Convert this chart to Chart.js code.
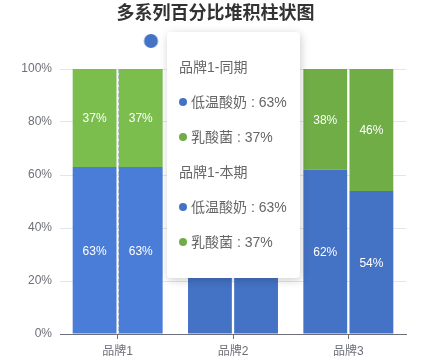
<!DOCTYPE html>
<html><head><meta charset="utf-8">
<script src="https://cdn.jsdelivr.net/npm/chart.js@4/dist/chart.umd.min.js"></script>
<style>
html,body{margin:0;padding:0;background:#fff;}
#wrap{position:relative;width:431px;height:358px;overflow:hidden;}
#tip{position:absolute;display:none;box-sizing:border-box;width:133px;height:246px;background:#fff;border-radius:4px;box-shadow:1px 2px 10px rgba(0,0,0,0.2);padding:18px 12px 19px 12px;font:14px "Liberation Sans","Noto Sans CJK SC",sans-serif;color:#666;white-space:nowrap;pointer-events:none;}
#tip .row{line-height:35px;height:35px;}
#tip .dot{display:inline-block;width:8px;height:8px;border-radius:50%;margin-right:4px;vertical-align:middle;position:relative;top:-1px;}
</style></head><body>
<div id="wrap"><canvas id="c" width="431" height="358"></canvas><div id="tip"></div></div>
<script>
const categories = ['品牌1', '品牌2', '品牌3'];
const seriesNames = ['低温酸奶', '乳酸菌'];
const periods = ['同期', '本期'];
const yogurtPrev = [63, 56, 62];
const lactoPrev = [37, 44, 38];
const yogurtCurr = [63, 60, 54];
const lactoCurr = [37, 40, 46];
const yTicks = [0, 20, 40, 60, 80, 100];
const chartTitle = '多系列百分比堆积柱状图';

const hoverIndex = 0;
const baseColors = ['#4472c4', '#70ad47'];
const hoverColors = ['#4a7dd7', '#7bbe4e'];
const FONT = '"Liberation Sans","Noto Sans CJK SC",sans-serif';
Chart.defaults.font.family = FONT;

// legend icon: 25x14 box with a 14px circle centred in it
function legendIcon(color) {
  const c = document.createElement('canvas');
  c.width = 25; c.height = 14;
  const g = c.getContext('2d');
  g.fillStyle = color;
  g.beginPath(); g.arc(12.5, 7, 7, 0, Math.PI * 2); g.fill();
  return c;
}
const legendIcons = baseColors.map(legendIcon);

const stackData = [[yogurtPrev, lactoPrev], [yogurtCurr, lactoCurr]];
const datasets = [];
periods.forEach((p, pi) => {
  seriesNames.forEach((name, si) => {
    const col = ctx => ctx.dataIndex === hoverIndex ? hoverColors[si] : baseColors[si];
    datasets.push({
      label: name, stack: p, data: stackData[pi][si],
      backgroundColor: col, hoverBackgroundColor: col,
      categoryPercentage: 0.8, barPercentage: 0.95, borderWidth: 0
    });
  });
});

const axisPointer = {
  id: 'axisPointer',
  afterDatasetsDraw(chart) {
    const ctx = chart.ctx;
    const x = Math.round(chart.scales.x.getPixelForValue(hoverIndex)) + 0.5;
    const {top, bottom} = chart.chartArea;
    ctx.save();
    ctx.strokeStyle = '#b9bec9';
    ctx.lineWidth = 1;
    ctx.setLineDash([4, 2]);
    ctx.beginPath(); ctx.moveTo(x, top); ctx.lineTo(x, bottom); ctx.stroke();
    ctx.restore();
  }
};

const valueLabels = {
  id: 'valueLabels',
  afterDatasetsDraw(chart) {
    const ctx = chart.ctx;
    ctx.save();
    ctx.font = '12px ' + FONT;
    ctx.fillStyle = '#fff';
    ctx.textAlign = 'center';
    ctx.textBaseline = 'middle';
    chart.data.datasets.forEach((ds, di) => {
      chart.getDatasetMeta(di).data.forEach((el, i) => {
        const {x, y, base} = el.getProps(['x', 'y', 'base'], true);
        ctx.fillText(ds.data[i] + '%', x, (y + base) / 2 + 1);
      });
    });
    ctx.restore();
  }
};

function externalTip(context) {
  const tooltip = context.tooltip;
  const el = document.getElementById('tip');
  const pts = tooltip.dataPoints || [];
  if (!pts.length) { el.style.display = 'none'; return; }
  const idx = pts[0].dataIndex;
  let html = '';
  periods.forEach(p => {
    html += '<div class="row">' + categories[idx] + '-' + p + '</div>';
    pts.filter(dp => dp.dataset.stack === p).forEach(dp => {
      const si = seriesNames.indexOf(dp.dataset.label);
      html += '<div class="row"><span class="dot" style="background:' + baseColors[si] + '"></span>' +
        dp.dataset.label + ' : ' + dp.raw + '%</div>';
    });
  });
  el.innerHTML = html;
  el.style.display = 'block';
  const cx = context.chart.scales.x.getPixelForValue(idx);
  el.style.left = Math.round(cx + 49) + 'px';
  el.style.top = '32px';
}

const chart = new Chart(document.getElementById('c'), {
  type: 'bar',
  data: { labels: categories, datasets },
  options: {
    responsive: false,
    animation: false,
    devicePixelRatio: 1,
    layout: { padding: 0 },
    plugins: {
      title: {
        display: true, text: chartTitle, color: '#333',
        font: { size: 18, weight: 'bold' },
        padding: { top: 3, bottom: 2.4 }
      },
      legend: {
        display: true, position: 'top',
        labels: {
          usePointStyle: true, pointStyleWidth: 25,
          boxWidth: 25, boxHeight: 10, padding: 8, color: '#333',
          font: { size: 12 },
          generateLabels: () => seriesNames.map((n, i) => ({
            text: n, fillStyle: baseColors[i], strokeStyle: baseColors[i],
            lineWidth: 0, pointStyle: legendIcons[i], datasetIndex: i, hidden: false, fontColor: '#333'
          }))
        }
      },
      tooltip: {
        enabled: false, animation: false, mode: 'index', intersect: false,
        external: externalTip
      }
    },
    scales: {
      x: {
        stacked: true,
        grid: { display: true, drawOnChartArea: false, drawTicks: true, tickLength: 5, offset: false, color: '#6e7079' },
        border: { display: true, color: '#6e7079' },
        ticks: { color: '#6e7079', font: { size: 12 }, padding: 5, maxRotation: 0 },
        afterFit: s => { s.height = 24; }
      },
      y: {
        stacked: true, min: 0, max: 100,
        afterBuildTicks: s => { s.ticks = yTicks.map(v => ({ value: v })); },
        ticks: { color: '#6e7079', padding: 8, font: { size: 12 }, callback: v => v + '%' },
        grid: { color: '#e0e6f1', drawTicks: false },
        border: { display: false },
        afterFit: s => { s.width = 60; }
      },
      topPad: {
        type: 'category', position: 'top', display: true,
        grid: { display: false }, border: { display: false }, ticks: { display: false },
        afterFit: s => { s.height = 12; }
      },
      rightPad: {
        type: 'linear', position: 'right', display: true,
        grid: { display: false }, border: { display: false }, ticks: { display: false },
        afterFit: s => { s.width = 25; }
      }
    }
  },
  plugins: [axisPointer, valueLabels]
});

chart.tooltip.setActiveElements(
  datasets.map((d, di) => ({ datasetIndex: di, index: hoverIndex })),
  { x: 146, y: 40 }
);
</script>
</body></html>
